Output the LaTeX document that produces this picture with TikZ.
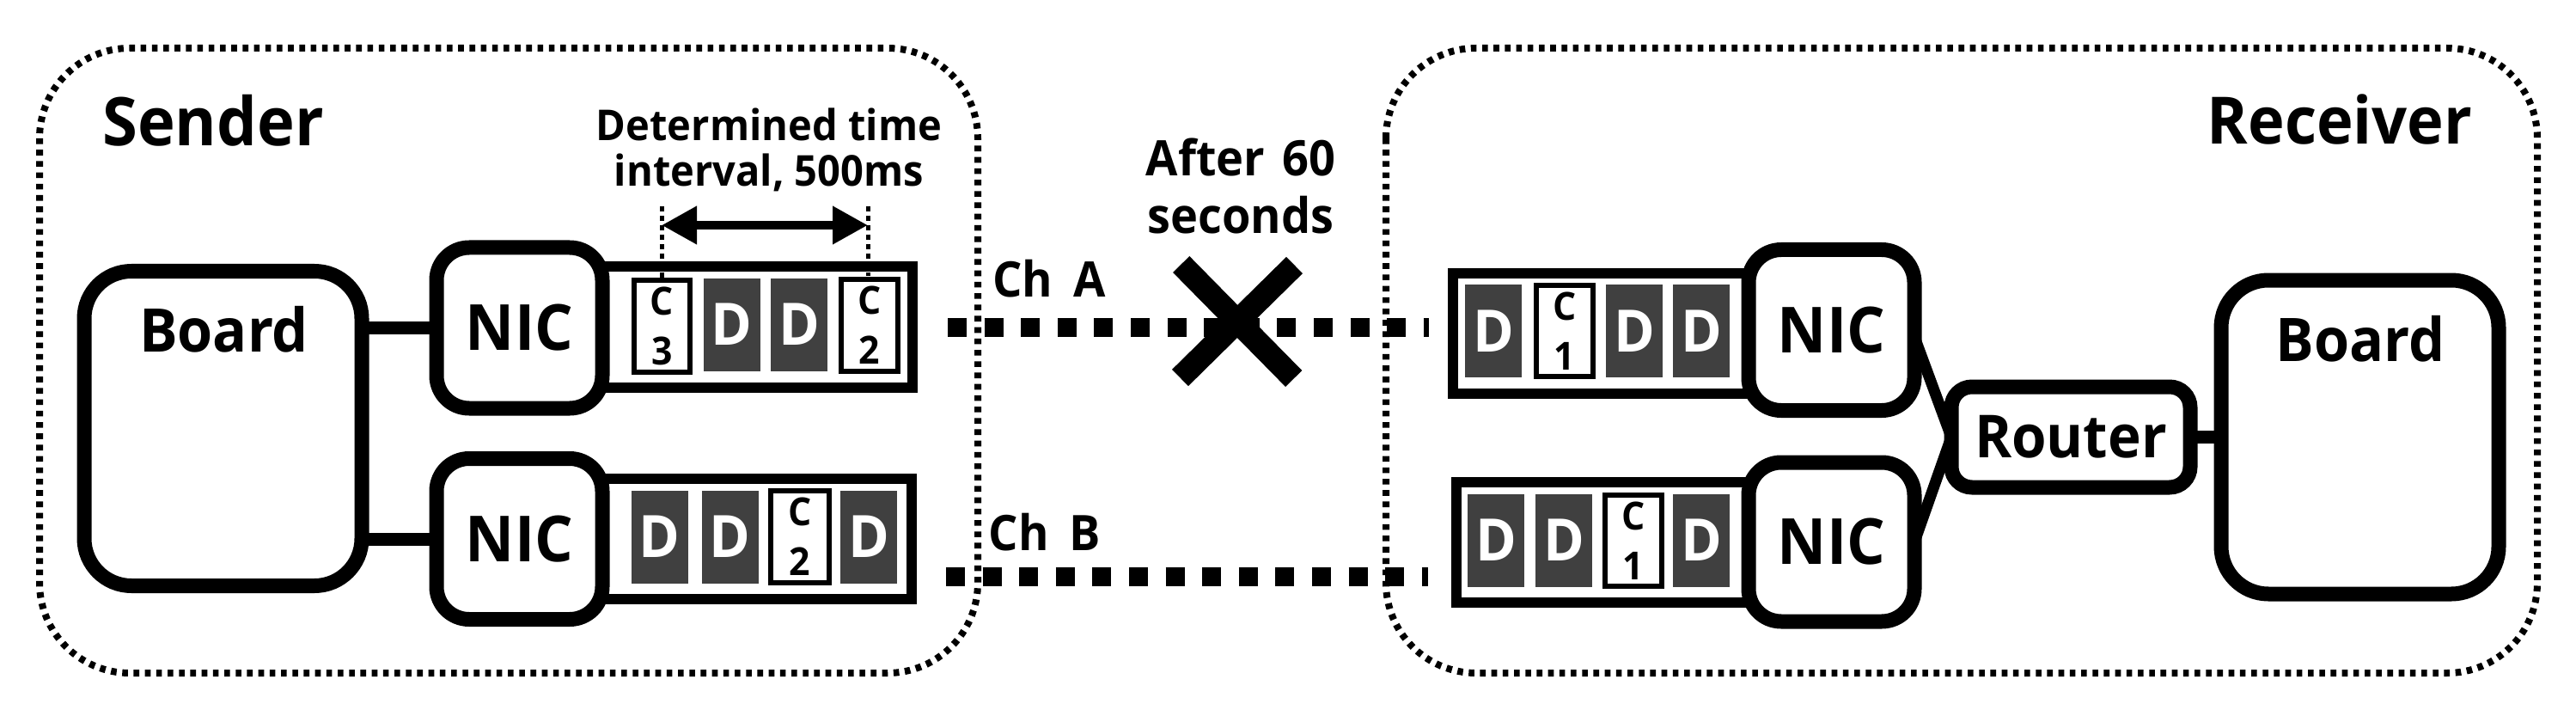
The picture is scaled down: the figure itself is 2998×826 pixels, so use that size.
\documentclass[tikz,border=0pt]{standalone}
\usepackage{fontspec}
\setmainfont{Open Sans}[BoldFont={Open Sans Bold},BoldFeatures={FakeStretch=0.95}]
\usetikzlibrary{arrows.meta,calc}
\definecolor{cellgray}{HTML}{404040}
\newcommand{\fs}[1]{\fontsize{#1}{#1}\selectfont}
\tikzset{
  x=1pt,y=-1pt,
  every node/.style={outer sep=0pt,inner sep=0pt},
  zone/.style={draw,line width=8pt,rounded corners=105pt,dash pattern=on 6.6pt off 6.6pt},
  thick box/.style={draw,fill=white,line width=17pt},
  nicbox/.style={thick box,minimum width=193pt,minimum height=187pt,rounded corners=38pt,font=\bfseries\fs{74}},
  boardbox/.style={thick box,minimum width=323pt,minimum height=366pt,rounded corners=55pt},
  queue/.style={draw,fill=white,line width=12pt,minimum height=141pt},
  dcell/.style={fill=cellgray,text=white,minimum width=66pt,minimum height=108pt,font=\bfseries\fs{68}},
  ccell/.style={draw,fill=white,line width=6pt,minimum width=64pt,minimum height=107pt,align=center,font=\bfseries\fs{45}},
  link/.style={line width=15pt},
  chan/.style={line width=22pt,dash pattern=on 22pt off 20.6pt},
  title/.style={font=\bfseries\fs{78}},
  lab/.style={font=\bfseries\fs{49.5},align=center},
  chlab/.style={font=\bfseries\fs{57}},
}
\begin{document}
\begin{tikzpicture}
\useasboundingbox (0,0) rectangle (2998,826);
% zones
\draw[zone] (46,56) rectangle (1138,783);
\draw[zone] (1613,56) rectangle (2953,783);
% channels
\coordinate (ca1) at (1103,381);
\coordinate (ca2) at (1663,381);
\coordinate (cb1) at (1101,671);
\coordinate (cb2) at (1662,671);
\draw[chan] (ca1) -- (ca2);
\draw[chan] (cb1) -- (cb2);
% X mark
\coordinate (xa) at (1374.7,307.5);
\coordinate (xb) at (1505.7,440.5);
\coordinate (xc) at (1506.5,308.5);
\coordinate (xd) at (1373.5,439.5);
\draw[line width=27pt] (xa) -- (xb);
\draw[line width=27pt] (xc) -- (xd);
% sender queues
\node[queue,minimum width=412pt] (qs1) at (856,380.5) {};
\node[queue,minimum width=411pt,minimum height=140pt] (qs2) at (855.5,627) {};
\node[ccell,minimum width=65pt] (s1a) at (770.5,379.5) {C\\[13pt]3};
\node[dcell] (s1b) at (851.5,377.5) {D};
\node[dcell] (s1c) at (930,377.5) {D};
\node[ccell,minimum width=66pt] (s1d) at (1012,378) {C\\[13pt]2};
\node[dcell] (s2a) at (767.5,624.5) {D};
\node[dcell] (s2b) at (849.5,624.5) {D};
\node[ccell,minimum width=68pt] (s2c) at (931,624.5) {C\\[13pt]2};
\node[dcell] (s2d) at (1011,624.5) {D};
% sender interval
\coordinate (il) at (770,262);
\coordinate (ir) at (1010,262);
\coordinate (il0) at (770,240);
\coordinate (ir0) at (1010,240);
\coordinate (il1) at (770,323);
\coordinate (ir1) at (1010,321);
\draw[line width=5pt,dash pattern=on 6pt off 5pt] (il0) -- (il1);
\draw[line width=5pt,dash pattern=on 6pt off 5pt] (ir0) -- (ir1);
\draw[line width=10pt,{Triangle[length=41pt,width=42pt]}-{Triangle[length=41pt,width=42pt]}] (il) -- (ir);
% sender boxes
\node[boardbox] (bs) at (259.5,498.5) {};
\node[nicbox] (ns1) at (604.5,381.5) {NIC};
\node[nicbox] (ns2) at (604.5,627) {NIC};
\draw[link] (ns1.west -| bs.east) -- (ns1.west);
\draw[link] (ns2.west -| bs.east) -- (ns2.west);
\node[font=\bfseries\fs{70}] (bst) at (260.5,383) {Board};
% receiver queues
\node[queue,minimum width=440pt,minimum height=140pt] (qr1) at (1911,388) {};
\node[queue,minimum width=436pt,minimum height=140pt] (qr2) at (1913,631) {};
\node[dcell] (r1a) at (1738,385) {D};
\node[ccell,minimum width=66pt,minimum height=106pt] (r1b) at (1821,385) {C\\[13pt]1};
\node[dcell] (r1c) at (1902,385) {D};
\node[dcell] (r1d) at (1980,385) {D};
\node[dcell] (r2a) at (1741,628.5) {D};
\node[dcell] (r2b) at (1820,628.5) {D};
\node[ccell,minimum width=66pt,minimum height=106pt] (r2c) at (1901,629) {C\\[13pt]1};
\node[dcell] (r2d) at (1980,628.5) {D};
% receiver boxes
\node[nicbox] (nr1) at (2131.5,384) {NIC};
\node[nicbox,minimum height=185pt] (nr2) at (2131.5,630.5) {NIC};
\node[thick box,minimum width=278pt,minimum height=117pt,rounded corners=24pt,font=\bfseries\fs{69}] (rt) at (2410,508.5) {Router};
\node[boardbox,minimum height=365pt] (br) at (2746.5,508.5) {};
\draw[link,line width=13pt] ([yshift=-8pt]nr1.east) -- (rt.west);
\draw[link,line width=13pt] (nr2.east) -- (rt.west);
\draw[link] (rt.east) -- (br.west);
\node[font=\bfseries\fs{70}] (brt) at (2747,394) {Board};
% titles
\node[title] (tS) at (248,140) {Sender};
\node[title,font=\bfseries\fs{76}] (tR) at (2723,139) {Receiver};
\node[lab] (tD) at (895,145) {Determined time};
\node[lab] (tI) at (895,201) {interval, 500ms};
\node[chlab] (tAf) at (1444,183) {After\hspace{6pt} 60};
\node[chlab] (tSe) at (1444,250) {seconds};
\node[chlab] (tA) at (1221,324) {Ch\hspace{10pt} A};
\node[chlab] (tB) at (1216,619) {Ch\hspace{10pt} B};
\end{tikzpicture}
\end{document}
